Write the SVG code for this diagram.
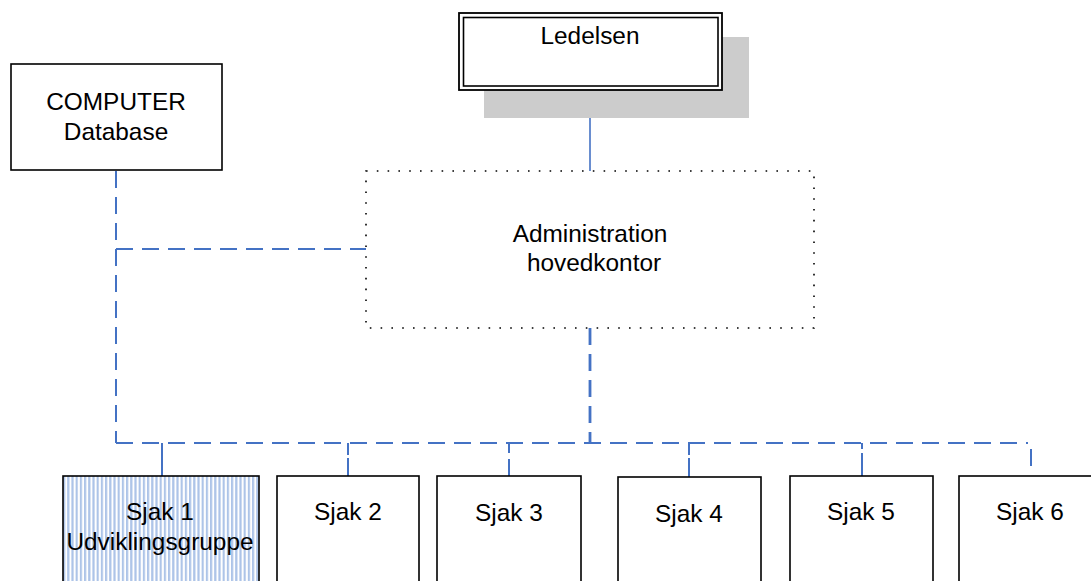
<svg xmlns="http://www.w3.org/2000/svg" width="1091" height="581" viewBox="0 0 1091 581">
<style>
text{font-family:"Liberation Sans",Arial,sans-serif;font-size:24.4px;fill:#000;text-anchor:middle}
.box{fill:#fff;stroke:#000;stroke-width:1.6}
.c{fill:none;stroke:#4472c4;stroke-width:2}
.d{stroke-dasharray:17 9}
</style>
<defs>
<pattern id="stripes" patternUnits="userSpaceOnUse" width="4.2" height="10" x="63">
<rect width="4.2" height="10" fill="#fff"/>
<rect width="2.2" height="10" fill="#adc4e8"/>
</pattern>
</defs>
<g id="connectors">
<line class="c" x1="590" y1="90" x2="590" y2="171" style="stroke-width:1.6"/>
<line class="c d" x1="116" y1="171" x2="116" y2="443"/>
<line class="c d" x1="116" y1="249" x2="366" y2="249"/>
<line class="c d" x1="590" y1="328" x2="590" y2="443" style="stroke-width:2.8"/>
<path class="c d" d="M116 443 H1028"/>
<line class="c" x1="1031" y1="449" x2="1031" y2="466"/>
<line class="c" x1="162" y1="443" x2="162" y2="476"/>
<line class="c d" x1="348" y1="443" x2="348" y2="476" style="stroke-dasharray:12 3 40"/>
<line class="c d" x1="509" y1="443" x2="509" y2="476" style="stroke-dasharray:10 6 40"/>
<line class="c d" x1="689" y1="443" x2="689" y2="477" style="stroke-dasharray:12 3 40"/>
<line class="c d" x1="862" y1="443" x2="862" y2="476" style="stroke-dasharray:6 4 40"/>
</g>
<g id="ledelsen">
<rect x="484" y="37" width="265" height="81" fill="#cccccc"/>
<rect x="459" y="13" width="263" height="77" fill="#fff" stroke="#000" stroke-width="1.8"/>
<rect x="463.5" y="17.5" width="254.5" height="68.5" fill="none" stroke="#000" stroke-width="1.6"/>
<text x="590" y="44">Ledelsen</text>
</g>
<g id="computer">
<rect class="box" x="11" y="64" width="211" height="106"/>
<text x="116" y="110">COMPUTER</text>
<text x="116" y="140">Database</text>
</g>
<g id="administration">
<rect x="366" y="171" width="448" height="157" fill="#fff" stroke="#000" stroke-width="1.6" stroke-dasharray="1.6 9.2"/>
<text x="590" y="242">Administration</text>
<text x="594" y="271">hovedkontor</text>
</g>
<g id="sjak1">
<rect x="63" y="476" width="196" height="120" fill="url(#stripes)" stroke="#000" stroke-width="1.6"/>
<text x="160" y="520">Sjak 1</text>
<text x="160" y="550">Udviklingsgruppe</text>
</g>
<g id="sjak2">
<rect class="box" x="277" y="476" width="142" height="120"/>
<text x="348" y="520">Sjak 2</text>
</g>
<g id="sjak3">
<rect class="box" x="437" y="476" width="144" height="120"/>
<text x="509" y="521">Sjak 3</text>
</g>
<g id="sjak4">
<rect class="box" x="618" y="477" width="143" height="120"/>
<text x="689" y="522">Sjak 4</text>
</g>
<g id="sjak5">
<rect class="box" x="790" y="476" width="143" height="120"/>
<text x="861" y="520">Sjak 5</text>
</g>
<g id="sjak6">
<rect class="box" x="959" y="476" width="145" height="120"/>
<text x="1030" y="520">Sjak 6</text>
</g>
</svg>
